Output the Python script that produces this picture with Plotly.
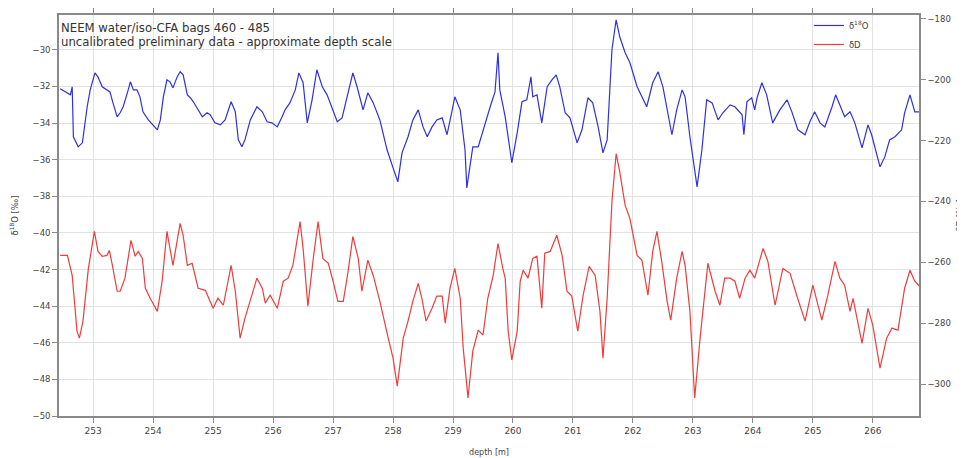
import plotly.graph_objects as go

# depth [m] and delta 18O [permil]
depth_o18 = [252.45, 252.53, 252.62, 252.65, 252.67, 252.75, 252.82, 252.90, 252.95, 253.03,
             253.08, 253.15, 253.23, 253.28, 253.33, 253.40, 253.45, 253.50, 253.57, 253.62,
             253.67, 253.73, 253.78, 253.83, 253.92, 254.00, 254.07, 254.12, 254.17, 254.23,
             254.28, 254.33, 254.40, 254.45, 254.50, 254.57, 254.62, 254.67, 254.73, 254.82,
             254.90, 254.95, 255.03, 255.12, 255.20, 255.30, 255.37, 255.42, 255.48, 255.53,
             255.62, 255.73, 255.82, 255.90, 255.98, 256.07, 256.15, 256.20, 256.28, 256.37,
             256.43, 256.50, 256.57, 256.65, 256.73, 256.82, 256.90, 256.98, 257.07, 257.15,
             257.23, 257.33, 257.40, 257.50, 257.58, 257.67, 257.78, 257.90, 258.00, 258.08,
             258.15, 258.25, 258.33, 258.42, 258.50, 258.57, 258.65, 258.73, 258.82, 258.90,
             258.98, 259.03, 259.12, 259.20, 259.23, 259.33, 259.42, 259.50, 259.62, 259.70,
             259.75, 259.78, 259.87, 259.95, 259.98, 260.07, 260.15, 260.23, 260.30, 260.33,
             260.40, 260.48, 260.57, 260.65, 260.72, 260.78, 260.87, 260.95, 261.07, 261.15,
             261.25, 261.33, 261.42, 261.50, 261.57, 261.65, 261.72, 261.78, 261.87, 261.95,
             262.07, 262.15, 262.23, 262.33, 262.42, 262.50, 262.57, 262.65, 262.73, 262.82,
             262.87, 262.95, 263.07, 263.15, 263.23, 263.32, 263.42, 263.50, 263.62, 263.70,
             263.82, 263.85, 263.90, 263.98, 264.03, 264.07, 264.15, 264.23, 264.33, 264.45,
             264.57, 264.65, 264.75, 264.87, 264.95, 265.03, 265.12, 265.20, 265.32, 265.38,
             265.45, 265.53, 265.62, 265.70, 265.82, 265.92, 265.98, 266.07, 266.12, 266.20,
             266.28, 266.37, 266.48, 266.53, 266.62, 266.70, 266.78]
d18o = [-32.13, -32.30, -32.46, -32.02, -34.75, -35.30, -35.08, -33.11, -32.19, -31.26,
        -31.48, -32.02, -32.19, -32.30, -32.90, -33.66, -33.44, -33.11, -32.35, -31.75,
        -32.19, -32.19, -32.57, -33.39, -33.83, -34.10, -34.37, -33.83, -32.57, -31.64,
        -31.75, -32.08, -31.48, -31.20, -31.37, -32.46, -32.62, -32.84, -33.17, -33.66,
        -33.44, -33.55, -33.99, -34.10, -33.83, -32.84, -33.39, -34.92, -35.30, -34.92,
        -33.83, -33.11, -33.39, -33.93, -33.99, -34.21, -33.66, -33.28, -32.90, -32.19,
        -31.26, -31.80, -33.99, -32.73, -31.09, -32.02, -32.46, -33.11, -33.93, -33.72,
        -32.57, -31.26, -32.02, -33.28, -32.35, -32.90, -33.83, -35.46, -36.45, -37.21,
        -35.63, -34.75, -33.83, -33.28, -34.21, -34.75, -34.21, -33.83, -33.72, -34.64,
        -33.39, -32.57, -33.28, -35.46, -37.54, -35.30, -35.30, -34.37, -33.11, -32.30,
        -30.16, -32.19, -33.66, -35.46, -36.17, -34.54, -32.84, -32.73, -31.48, -32.57,
        -32.46, -33.99, -32.02, -31.64, -31.37, -32.02, -33.44, -33.72, -35.08, -34.37,
        -32.62, -32.90, -34.21, -35.63, -34.92, -30.00, -28.36, -29.29, -30.16, -30.71,
        -32.02, -32.57, -33.11, -31.80, -31.20, -32.02, -33.28, -34.64, -33.28, -32.19,
        -32.57, -34.75, -37.49, -35.46, -32.73, -32.90, -33.83, -33.44, -33.01, -33.11,
        -33.55, -34.64, -32.84, -32.62, -33.28, -32.62, -31.80, -32.46, -33.99, -33.28,
        -32.73, -33.39, -34.37, -34.64, -33.93, -33.39, -33.99, -34.21, -33.11, -32.46,
        -33.01, -33.66, -33.39, -33.99, -35.36, -34.10, -34.64, -35.74, -36.39, -35.85,
        -34.92, -34.75, -34.37, -33.44, -32.46, -33.39, -33.39]

# depth [m] and delta D [permil]
depth_dd = [252.45, 252.57, 252.65, 252.73, 252.77, 252.83, 252.92, 253.02, 253.08, 253.15,
            253.23, 253.27, 253.32, 253.40, 253.45, 253.53, 253.63, 253.70, 253.75, 253.82,
            253.87, 253.95, 254.07, 254.15, 254.23, 254.33, 254.45, 254.50, 254.57, 254.65,
            254.75, 254.87, 255.00, 255.08, 255.17, 255.30, 255.37, 255.45, 255.53, 255.65,
            255.73, 255.82, 255.87, 255.95, 256.07, 256.17, 256.25, 256.33, 256.45, 256.50,
            256.58, 256.67, 256.75, 256.83, 256.92, 257.00, 257.08, 257.17, 257.25, 257.33,
            257.42, 257.48, 257.58, 257.67, 257.78, 257.92, 258.00, 258.07, 258.17, 258.25,
            258.33, 258.42, 258.48, 258.55, 258.65, 258.73, 258.82, 258.87, 258.95, 259.03,
            259.12, 259.17, 259.25, 259.33, 259.42, 259.50, 259.58, 259.67, 259.75, 259.83,
            259.87, 259.92, 259.98, 260.07, 260.12, 260.17, 260.25, 260.33, 260.40, 260.48,
            260.53, 260.62, 260.73, 260.82, 260.90, 260.98, 261.08, 261.17, 261.27, 261.37,
            261.45, 261.50, 261.57, 261.65, 261.72, 261.78, 261.87, 261.95, 262.07, 262.15,
            262.25, 262.33, 262.40, 262.48, 262.57, 262.63, 262.73, 262.82, 262.87, 262.95,
            263.03, 263.12, 263.25, 263.37, 263.45, 263.53, 263.62, 263.70, 263.78, 263.87,
            263.95, 264.03, 264.17, 264.25, 264.37, 264.50, 264.62, 264.73, 264.87, 265.00,
            265.15, 265.25, 265.37, 265.45, 265.53, 265.62, 265.67, 265.82, 265.92, 266.00,
            266.12, 266.23, 266.32, 266.42, 266.53, 266.62, 266.70, 266.78]
dd = [-257.7, -257.7, -264.3, -282.6, -284.9, -279.3, -262.0, -249.8, -256.4, -258.0,
      -257.7, -256.1, -261.0, -269.5, -269.5, -265.2, -252.8, -258.0, -256.4, -258.7,
      -268.5, -271.8, -276.1, -266.2, -249.8, -261.0, -247.2, -251.1, -261.0, -260.3,
      -268.5, -269.2, -275.1, -271.8, -274.1, -261.0, -269.5, -284.9, -278.4, -270.8,
      -265.2, -268.5, -273.4, -270.8, -275.1, -266.2, -265.2, -261.0, -246.6, -255.4,
      -274.4, -258.7, -246.6, -258.7, -260.3, -266.2, -272.8, -272.8, -263.0, -251.5,
      -258.7, -269.5, -259.3, -264.3, -272.8, -284.9, -291.5, -300.7, -284.9, -279.3,
      -272.8, -266.9, -271.8, -279.3, -275.1, -271.1, -271.1, -280.0, -268.5, -262.0,
      -271.8, -288.2, -304.6, -289.2, -282.3, -283.9, -271.8, -264.3, -253.8, -262.0,
      -265.2, -282.6, -292.1, -282.6, -266.2, -262.6, -265.2, -258.7, -258.0, -275.1,
      -257.0, -256.4, -251.1, -257.7, -269.5, -271.1, -282.6, -270.8, -261.3, -264.3,
      -276.1, -291.5, -271.8, -240.0, -224.3, -230.2, -241.3, -245.6, -257.7, -259.3,
      -270.8, -256.4, -249.8, -259.7, -272.8, -279.0, -265.2, -256.4, -261.0, -276.1,
      -304.6, -284.9, -260.3, -269.5, -274.1, -265.2, -265.2, -266.2, -271.8, -265.2,
      -262.6, -265.2, -255.4, -259.7, -274.1, -262.0, -263.6, -270.8, -279.3, -267.5,
      -279.0, -270.8, -259.7, -265.2, -267.5, -276.1, -271.8, -286.6, -275.1, -280.7,
      -294.8, -284.9, -281.6, -282.3, -268.5, -262.6, -266.2, -267.9]

x_ticks = [253, 254, 255, 256, 257, 258, 259, 260, 261, 262, 263, 264, 265, 266]
y1_ticks = [-30, -32, -34, -36, -38, -40, -42, -44, -46, -48, -50]
y2_ticks = [-180, -200, -220, -240, -260, -280, -300]

title_lines = ["NEEM water/iso-CFA bags 460 - 485",
               "uncalibrated preliminary data - approximate depth scale"]

FONT = "DejaVu Sans"
AX = "#8a8a8a"
TXT = "#444444"

fig = go.Figure()
fig.add_trace(go.Scatter(x=depth_o18, y=d18o, mode="lines", name="δ<sup>18</sup>O",
                         line=dict(color="#3030dd", width=1.2), yaxis="y"))
fig.add_trace(go.Scatter(x=depth_dd, y=dd, mode="lines", name="δD",
                         line=dict(color="#ee3c3c", width=1.2), yaxis="y2"))

# the page body adds an 8px margin, so the figure is 8px smaller than the window
fig.update_layout(
    width=957, height=450,
    margin=dict(l=51, r=46, t=7, b=42, autoexpand=False),
    paper_bgcolor="white", plot_bgcolor="white",
    font=dict(family=FONT, size=9, color=TXT),
    showlegend=True,
    legend=dict(x=0.872, y=1.01, xanchor="left", yanchor="top",
                bgcolor="rgba(0,0,0,0)", font=dict(size=8.5, color=TXT),
                tracegroupgap=0, itemwidth=30),
    xaxis=dict(range=[252.43, 266.77], tickvals=x_ticks,
               ticktext=[str(v) for v in x_ticks], automargin=False,
               showgrid=True, gridcolor="#e2e2e2", gridwidth=1,
               zeroline=False, showline=True, linecolor=AX, linewidth=1.5,
               mirror="ticks", ticks="outside", ticklen=5, tickcolor=AX,
               tickfont=dict(size=9, color=TXT),
               title=dict(text="depth [m]", font=dict(size=8, color=TXT))),
    yaxis=dict(range=[-50, -28.1], tickvals=y1_ticks, automargin=False,
               showgrid=True, gridcolor="#e2e2e2", gridwidth=1,
               zeroline=False, showline=True, linecolor=AX, linewidth=1.5,
               mirror=True, ticks="outside", ticklen=5, tickcolor=AX,
               tickfont=dict(size=8.5, color=TXT),
               title=dict(text="δ<sup>18</sup>O [‰]", font=dict(size=8.5, color=TXT))),
    yaxis2=dict(range=[-310.5, -178.7], tickvals=y2_ticks, overlaying="y", side="right",
                automargin=False,
                showgrid=False, zeroline=False, showline=True, linecolor=AX, linewidth=1.5,
                ticks="outside", ticklen=5, tickcolor=AX,
                tickfont=dict(size=8.5, color=TXT),
                title=dict(text="δD [‰]", font=dict(size=8.5, color=TXT))),
)

for i, line in enumerate(title_lines):
    fig.add_annotation(x=0.0, y=0.99 - i * 0.034, xref="paper", yref="paper",
                       xanchor="left", yanchor="top", showarrow=False,
                       text=line, font=dict(family=FONT, size=11.7, color="#333333"))

fig.write_html("out.html")
